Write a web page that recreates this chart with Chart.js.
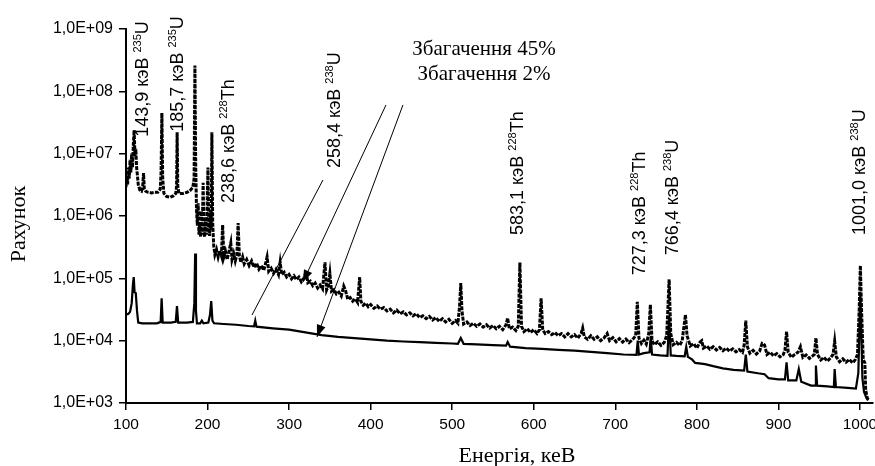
<!DOCTYPE html>
<html>
<head>
<meta charset="utf-8">
<script src="https://cdn.jsdelivr.net/npm/chart.js@4.4.1/dist/chart.umd.min.js"></script>
<style>
  html, body { margin: 0; padding: 0; background: #fff; }
  #wrap { width: 875px; height: 466px; }
</style>
</head>
<body>
<div id="wrap"><canvas id="spectrumChart" width="875" height="466"></canvas></div>
<script>
// Spectrum, 45% enrichment (keV / counts)
var energy45 = [100, 101, 102, 103, 104, 105, 106, 107, 108, 109, 110, 111, 112, 113, 114, 115, 117, 119, 120.5, 121.5,
    122.5, 124, 127, 131, 135, 139, 142, 143, 144, 145, 146.5, 150, 154, 158, 161, 162, 162.7, 163.5, 165, 170,
    175, 179, 182, 183.5, 184.5, 185.5, 186.5, 187.5, 188.5, 189.5, 190.5, 191.5, 192.5, 193.5, 194.6, 195.5, 196.5, 197.5, 198.5, 199.5,
    200.5, 201.5, 202.5, 203.5, 204.5, 205.3, 206.3, 207.5, 209, 211, 213, 215, 217, 218.5, 220, 222, 224, 226, 228.5, 230,
    232, 234, 236, 237.5, 239, 241, 243, 245, 248, 251, 254, 257, 260, 263, 266, 269, 271, 273, 275, 278,
    281, 284, 287, 289, 291, 294, 297, 300, 303, 306, 309, 312, 315, 318, 321, 323, 326, 329, 332, 335,
    338, 341, 344, 346, 348, 350, 352, 355, 358, 361, 364, 367, 369, 372, 375, 378, 381, 384, 386.5, 388,
    391, 394, 397, 400, 404, 408, 412, 416, 420, 424, 428, 432, 436, 440, 444, 448, 452, 456, 460, 464,
    468, 472, 476, 480, 484, 488, 492, 496, 500, 504, 507, 509, 510.5, 512, 514, 518, 522, 526, 530, 534,
    538, 542, 546, 550, 554, 558, 562, 566, 568, 570, 574, 578, 581, 583, 585, 588, 592, 596, 600, 604,
    607, 609, 611, 614, 618, 622, 626, 630, 634, 638, 642, 646, 650, 654, 658, 660, 662, 666, 670, 674,
    678, 682, 686, 690, 693, 697, 701, 705, 709, 713, 717, 721, 725, 727, 729, 732, 735, 738, 741, 743,
    745, 748, 752, 756, 760, 763, 766, 768, 771, 775, 779, 782, 786, 788, 792, 796, 800, 804, 806, 808,
    812, 816, 820, 824, 828, 832, 836, 840, 844, 848, 852, 856, 858, 860, 862, 865, 869, 873, 877, 880,
    883, 886, 890, 894, 898, 902, 906, 908, 910, 912, 916, 920, 924, 927, 930, 934, 938, 942, 944, 946,
    948, 952, 956, 960, 964, 967, 969, 971, 975, 979, 983, 987, 991, 994, 997, 999, 1000.5, 1002, 1004, 1006,
    1007, 1009, 1011];
var counts45 = [2.9e6, 4.5e6, 3.2e6, 6.0e6, 4.0e6, 8.0e6, 5.0e6, 1.0e7, 6.0e6, 1.4e7, 2.4e7, 9.0e6, 1.2e7, 6.0e6, 4.5e6, 3.2e6, 2.6e6, 2.5e6, 3.0e6, 4.9e6,
    2.7e6, 2.5e6, 2.4e6, 2.35e6, 2.4e6, 2.4e6, 2.7e6, 5.0e6, 4.5e7, 4.0e6, 2.3e6, 2.05e6, 2.0e6, 2.1e6, 2.3e6, 3.0e6, 2.2e7, 3.0e6, 2.3e6, 2.3e6,
    2.4e6, 2.6e6, 2.9e6, 4.0e6, 2.6e8, 6.0e6, 1.2e6, 7.0e5, 1.6e6, 5.0e5, 8.0e5, 4.6e5, 1.2e6, 5.0e5, 3.4e6, 5.5e5, 4.6e5, 9.0e5, 5.0e5, 1.5e6,
    6.0e6, 6.0e5, 4.8e5, 1.2e6, 6.0e5, 2.2e7, 8.0e5, 3.4e5, 2.4e5, 2.9e5, 2.2e5, 2.8e5, 2.3e5, 7.2e5, 2.2e5, 2.7e5, 2.0e5, 2.6e5, 3.7e5, 2.0e5,
    2.5e5, 1.9e5, 2.4e5, 7.7e5, 2.3e5, 1.8e5, 2.2e5, 1.7e5, 2.0e5, 1.6e5, 1.9e5, 1.5e5, 1.75e5, 1.4e5, 1.6e5, 1.35e5, 1.7e5, 2.2e5, 1.3e5, 1.45e5,
    1.2e5, 1.4e5, 1.15e5, 1.8e5, 1.15e5, 1.25e5, 1.05e5, 1.15e5, 9.8e4, 1.1e5, 9.5e4, 1.05e5, 8.8e4, 1.0e5, 1.3e5, 8.5e4, 9.0e4, 7.6e4, 8.4e4, 7.0e4,
    7.8e4, 6.8e4, 1.8e5, 6.5e4, 7.5e4, 1.2e5, 6.2e4, 6.6e4, 5.6e4, 6.0e4, 5.2e4, 7.5e4, 6.5e4, 4.6e4, 4.9e4, 4.3e4, 4.7e4, 4.1e4, 1.05e5, 4.3e4,
    3.7e4, 4.0e4, 3.5e4, 3.8e4, 3.3e4, 3.6e4, 3.2e4, 3.4e4, 3.0e4, 3.2e4, 2.8e4, 3.1e4, 2.7e4, 2.9e4, 2.6e4, 2.8e4, 2.5e4, 2.7e4, 2.35e4, 2.5e4,
    2.25e4, 2.45e4, 2.15e4, 2.35e4, 2.05e4, 2.25e4, 2.0e4, 2.2e4, 1.9e4, 2.1e4, 1.9e4, 3.5e4, 8.4e4, 3.0e4, 1.85e4, 2.0e4, 1.75e4, 1.9e4, 1.7e4, 1.85e4,
    1.65e4, 1.8e4, 1.6e4, 1.75e4, 1.55e4, 1.7e4, 1.5e4, 1.8e4, 2.3e4, 1.55e4, 1.65e4, 1.45e4, 1.7e4, 1.8e5, 1.7e4, 1.4e4, 1.55e4, 1.35e4, 1.5e4, 1.3e4,
    1.5e4, 4.8e4, 1.5e4, 1.3e4, 1.4e4, 1.25e4, 1.35e4, 1.2e4, 1.3e4, 1.15e4, 1.3e4, 1.15e4, 1.25e4, 1.1e4, 1.3e4, 1.6e4, 1.15e4, 1.05e4, 1.2e4, 1.05e4,
    1.15e4, 1.0e4, 1.1e4, 1.3e4, 1.0e4, 1.12e4, 9.6e3, 1.08e4, 9.5e3, 1.06e4, 9.3e3, 1.04e4, 1.2e4, 4.2e4, 1.1e4, 9.0e3, 1.02e4, 8.8e3, 1.3e4, 3.8e4,
    1.0e4, 8.6e3, 9.6e3, 8.4e3, 9.4e3, 1.2e4, 9.6e4, 1.3e4, 8.6e3, 9.4e3, 8.4e3, 1.0e4, 2.6e4, 1.2e4, 8.2e3, 9.0e3, 7.6e3, 9.5e3, 1.0e4, 7.6e3,
    8.2e3, 7.3e3, 8.0e3, 7.1e3, 7.8e3, 6.9e3, 7.6e3, 6.8e3, 7.4e3, 6.6e3, 7.2e3, 6.5e3, 8.5e3, 2.1e4, 8.0e3, 6.3e3, 7.0e3, 6.1e3, 6.8e3, 9.0e3,
    8.5e3, 6.0e3, 6.5e3, 5.7e3, 6.2e3, 5.5e3, 6.0e3, 7.0e3, 1.4e4, 6.5e3, 5.4e3, 6.0e3, 6.5e3, 8.0e3, 5.4e3, 5.9e3, 5.2e3, 5.7e3, 6.0e3, 1.1e4,
    6.0e3, 4.9e3, 5.4e3, 4.7e3, 5.3e3, 6.0e3, 9.8e3, 5.5e3, 4.6e3, 5.1e3, 4.5e3, 5.0e3, 4.4e3, 4.9e3, 6.0e3, 3.0e4, 1.6e5, 3.0e4, 5.0e3, 4.4e3,
    1.6e3, 1.2e3, 1.1e3];

// Spectrum, 2% enrichment (keV / counts)
var energy2 = [100, 103, 105, 107, 108.5, 109.5, 110.5, 112, 113.5, 115, 120, 130, 138, 142.5, 143.7, 145, 155, 161, 162.5, 164,
    175, 182, 183.8, 184.8, 185.8, 187, 191, 193, 195, 201, 203, 204.5, 206, 208, 220, 235, 250, 257, 258.5, 260,
    280, 300, 320, 340, 360, 380, 400, 420, 440, 460, 480, 500, 507, 510.5, 514, 530, 550, 566, 568, 571,
    590, 610, 630, 650, 670, 690, 710, 726, 727.5, 729, 735, 742, 743.5, 745, 755, 764, 766, 768, 775, 785,
    787, 789, 794, 798, 810, 820, 832, 845, 858, 860, 862, 875, 883, 888, 900, 908, 910, 912, 922, 925,
    928, 940, 945, 946, 947.5, 960, 968, 969, 970.5, 985, 995, 998, 1000.5, 1003, 1005, 1008, 1010];
var counts2 = [2.6e4, 2.7e4, 2.9e4, 4.0e4, 8.0e4, 1.05e5, 6.0e4, 5.8e4, 3.0e4, 1.95e4, 1.9e4, 1.9e4, 1.9e4, 2.0e4, 4.8e4, 1.95e4, 1.95e4, 2.0e4, 3.6e4, 1.95e4,
    1.95e4, 2.0e4, 4.0e4, 2.5e5, 3.0e4, 1.9e4, 1.9e4, 2.1e4, 1.9e4, 1.95e4, 2.6e4, 4.3e4, 2.1e4, 1.9e4, 1.85e4, 1.8e4, 1.72e4, 1.7e4, 2.1e4, 1.68e4,
    1.58e4, 1.5e4, 1.36e4, 1.23e4, 1.15e4, 1.1e4, 1.05e4, 1.0e4, 9.7e3, 9.5e3, 9.2e3, 9.0e3, 8.9e3, 1.1e4, 8.9e3, 8.7e3, 8.5e3, 8.3e3, 9.5e3, 8.0e3,
    7.6e3, 7.4e3, 7.1e3, 6.9e3, 6.6e3, 6.3e3, 6.0e3, 5.9e3, 1.0e4, 6.0e3, 6.3e3, 6.5e3, 1.2e4, 6.0e3, 5.8e3, 5.7e3, 2.5e4, 5.8e3, 5.7e3, 5.6e3,
    8.0e3, 5.5e3, 5.0e3, 4.4e3, 4.2e3, 3.9e3, 3.6e3, 3.4e3, 3.3e3, 6.0e3, 3.2e3, 3.0e3, 2.9e3, 2.5e3, 2.4e3, 2.4e3, 4.5e3, 2.3e3, 2.3e3, 3.5e3,
    2.2e3, 1.9e3, 1.9e3, 4.0e3, 1.9e3, 1.85e3, 1.8e3, 3.5e3, 1.8e3, 1.75e3, 1.7e3, 3.0e3, 6.0e4, 2.5e3, 1.5e3, 1.2e3, 1.1e3];

// Axis ticks
var xTickValues = [100, 200, 300, 400, 500, 600, 700, 800, 900, 1000];
var yTickValues = [1e3, 1e4, 1e5, 1e6, 1e7, 1e8, 1e9];
var yTickLabels = ['1,0E+03', '1,0E+04', '1,0E+05', '1,0E+06', '1,0E+07', '1,0E+08', '1,0E+09'];

// Peak labels: text, isotope mass, element
var peakTexts = ['143,9 кэВ', '185,7 кэВ', '238,6 кэВ', '258,4 кэВ', '583,1 кэВ', '727,3 кэВ', '766,4 кэВ', '1001,0 кэВ'];
var peakMass = ['235', '235', '228', '238', '228', '228', '238', '238'];
var peakElement = ['U', 'U', 'Th', 'U', 'Th', 'Th', 'U', 'U'];

var seriesNames = ['Збагачення 45%', 'Збагачення 2%'];

// where the annotations sit, in chart units [keV, counts]
var peakAnchors = [[119.6, 1.86e7], [162.5, 2.24e7], [225, 1.62e6], [355, 5.9e6],
    [579.4, 4.95e5], [729, 1.12e5], [769.4, 2.34e5], [998.7, 4.95e5]];
var legendAnchors = [[539, 3.83e8], [539, 1.5e8]];
var arrowLines = [
    [[418.8, 6.04e7], [317, 8.73e4], true],
    [[439.6, 6.04e7], [334.2, 1.15e4], true],
    [[341.5, 3.78e6], [254.5, 2.58e4], false]
];

var SANS = "'Liberation Sans', Arial, sans-serif";
var SERIF = "'Liberation Serif', 'Times New Roman', serif";

function toPoints(xs, ys) {
    return xs.map(function (e, i) { return { x: e, y: ys[i] }; });
}

function drawArrow(ctx, x1, y1, x2, y2, head) {
    ctx.beginPath();
    ctx.moveTo(x1, y1);
    ctx.lineTo(x2, y2);
    ctx.stroke();
    if (!head) return;
    var a = Math.atan2(y2 - y1, x2 - x1);
    var len = 12, half = 4.5;
    var bx = x2 - len * Math.cos(a), by = y2 - len * Math.sin(a);
    ctx.beginPath();
    ctx.moveTo(x2, y2);
    ctx.lineTo(bx + half * Math.sin(a), by - half * Math.cos(a));
    ctx.lineTo(bx - half * Math.sin(a), by + half * Math.cos(a));
    ctx.closePath();
    ctx.fill();
}

var notesPlugin = {
    id: 'spectrumNotes',
    afterDraw: function (chart) {
        var ctx = chart.ctx;
        var xs = chart.scales.x, ys = chart.scales.y;
        ctx.save();
        ctx.fillStyle = '#000';
        ctx.strokeStyle = '#000';

        // rotated peak labels
        var big = 18, small = 11;
        peakTexts.forEach(function (t, i) {
            var px = xs.getPixelForValue(peakAnchors[i][0]);
            var py = ys.getPixelForValue(peakAnchors[i][1]);
            ctx.save();
            ctx.translate(px + 0.36 * big, py);
            ctx.rotate(-Math.PI / 2);
            ctx.textAlign = 'left';
            ctx.textBaseline = 'alphabetic';
            ctx.font = big + 'px ' + SANS;
            var w = ctx.measureText(t + ' ').width;
            ctx.fillText(t + ' ', 0, 0);
            ctx.font = small + 'px ' + SANS;
            ctx.fillText(peakMass[i], w, -0.42 * big);
            w += ctx.measureText(peakMass[i]).width;
            ctx.font = big + 'px ' + SANS;
            ctx.fillText(peakElement[i], w, 0);
            ctx.restore();
        });

        // series names
        ctx.font = '21px ' + SERIF;
        ctx.textAlign = 'center';
        ctx.textBaseline = 'alphabetic';
        seriesNames.forEach(function (n, i) {
            ctx.fillText(n, xs.getPixelForValue(legendAnchors[i][0]), ys.getPixelForValue(legendAnchors[i][1]));
        });

        // arrows
        ctx.lineWidth = 1;
        arrowLines.forEach(function (a) {
            drawArrow(ctx, xs.getPixelForValue(a[0][0]), ys.getPixelForValue(a[0][1]),
                xs.getPixelForValue(a[1][0]), ys.getPixelForValue(a[1][1]), a[2]);
        });

        // axis titles
        ctx.font = '22px ' + SERIF;
        ctx.textAlign = 'center';
        ctx.fillText('Енергія, кеВ', 517, 462);
        ctx.save();
        ctx.translate(25, 224);
        ctx.rotate(-Math.PI / 2);
        ctx.fillText('Рахунок', 0, 0);
        ctx.restore();

        ctx.restore();
    }
};

document.addEventListener('DOMContentLoaded', function () {
    var ctx = document.getElementById('spectrumChart').getContext('2d');

    new Chart(ctx, {
        type: 'line',
        data: {
            datasets: [{
                label: seriesNames[0],
                data: toPoints(energy45, counts45),
                borderColor: '#000',
                borderWidth: 3,
                borderDash: [4, 1.2],
                pointRadius: 0,
                tension: 0
            }, {
                label: seriesNames[1],
                data: toPoints(energy2, counts2),
                borderColor: '#000',
                borderWidth: 2.2,
                pointRadius: 0,
                tension: 0
            }]
        },
        options: {
            responsive: false,
            animation: false,
            parsing: false,
            layout: { padding: { top: 29, right: 2, bottom: 0, left: 0 } },
            plugins: {
                legend: { display: false },
                tooltip: { enabled: false }
            },
            scales: {
                x: {
                    type: 'linear',
                    min: 100,
                    max: 1016,
                    border: { color: '#000', width: 2 },
                    grid: { drawOnChartArea: false, color: '#000', lineWidth: 1.5, tickLength: 7 },
                    ticks: {
                        color: '#000',
                        padding: 5,
                        font: { family: SANS, size: 15.5 },
                        maxRotation: 0,
                        callback: function (v) { return String(v); }
                    },
                    afterBuildTicks: function (scale) {
                        scale.ticks = xTickValues.map(function (v) { return { value: v }; });
                    },
                    afterFit: function (scale) {
                        scale.height = 63;
                        scale.paddingLeft = 0;
                        scale.paddingRight = 0;
                    }
                },
                y: {
                    type: 'logarithmic',
                    min: 1e3,
                    max: 1e9,
                    border: { color: '#000', width: 2 },
                    grid: { drawOnChartArea: false, color: '#000', lineWidth: 1.5, tickLength: 7 },
                    ticks: {
                        color: '#000',
                        padding: 6,
                        font: { family: SANS, size: 16 },
                        callback: function (v) {
                            var i = yTickValues.indexOf(v);
                            return i >= 0 ? yTickLabels[i] : '';
                        }
                    },
                    afterBuildTicks: function (scale) {
                        scale.ticks = yTickValues.map(function (v) { return { value: v }; });
                    },
                    afterFit: function (scale) {
                        scale.width = 126;
                        scale.paddingTop = 0;
                        scale.paddingBottom = 0;
                    }
                }
            }
        },
        plugins: [notesPlugin]
    });
});
</script>
</body>
</html>
